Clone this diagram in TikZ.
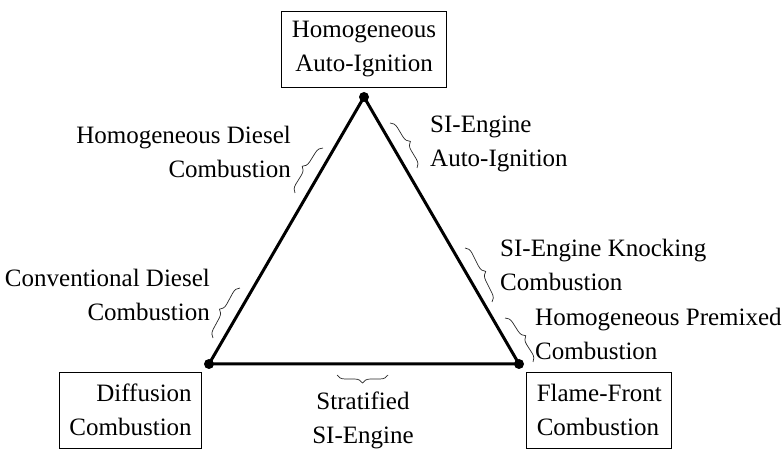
\documentclass[tikz,border=0pt]{standalone}
\usepackage{fontspec}
\setmainfont{Liberation Serif}
\usetikzlibrary{positioning, decorations.pathreplacing}

\begin{document}
\begin{tikzpicture}[
    x=1pt, y=1pt,
    font=\fontsize{25}{34}\selectfont,
    every node/.style={align=center},
    corner/.style={circle, fill=black, inner sep=0pt, minimum size=10pt},
    box/.style={draw, line width=1.2pt, inner xsep=10pt, minimum height=76pt},
    side/.style={line width=3pt},
    curly/.style={decorate, decoration={brace, amplitude=8pt}, line width=0.7pt, draw=black!85},
    regime/.style={inner sep=0pt}
]
\useasboundingbox (0,0) rectangle (783,452);

% corners of the triangle
\node[corner] (apex) at (364,355) {};
\node[corner] (dl)   at (209,88)  {};
\node[corner] (dr)   at (519,88)  {};

\draw[side] (apex.center) -- (dl.center) -- (dr.center) -- cycle;

\node[box, above=4pt of apex] (hai) {Homogeneous\\Auto-Ignition};
\node[box, below left=4pt and 3pt of dl, align=right] (diff) {Diffusion\\Combustion};
\node[box, below right=4pt and 3.5pt of dr, align=left] (ffc) {Flame-Front\\Combustion};

% regimes along the edges
\node[regime, anchor=east, align=right] (hdc) at (291,300) {Homogeneous Diesel\\Combustion};
\node[regime, anchor=east, align=right] (cdc) at (210,157) {Conventional Diesel\\Combustion};
\node[regime, anchor=west, align=left]  (siai) at (430,308) {SI-Engine\\Auto-Ignition};
\node[regime, anchor=west, align=left]  (sikc) at (500,187) {SI-Engine Knocking\\Combustion};
\node[regime, anchor=west, align=left]  (hpc) at (535,118) {Homogeneous Premixed\\Combustion};
\node[regime, anchor=north] (ssi) at (363,60) {Stratified\\SI-Engine};

\draw[curly] (295,259) -- (323,304);
\draw[curly] (213,114) -- (240,164);
\draw[curly] (390,329) -- (417,284);
\draw[curly] (465,204) -- (492,150);
\draw[curly] (505,134) -- (533,90);
\draw[curly] (388,77) -- (337,77);

\end{tikzpicture}
\end{document}
